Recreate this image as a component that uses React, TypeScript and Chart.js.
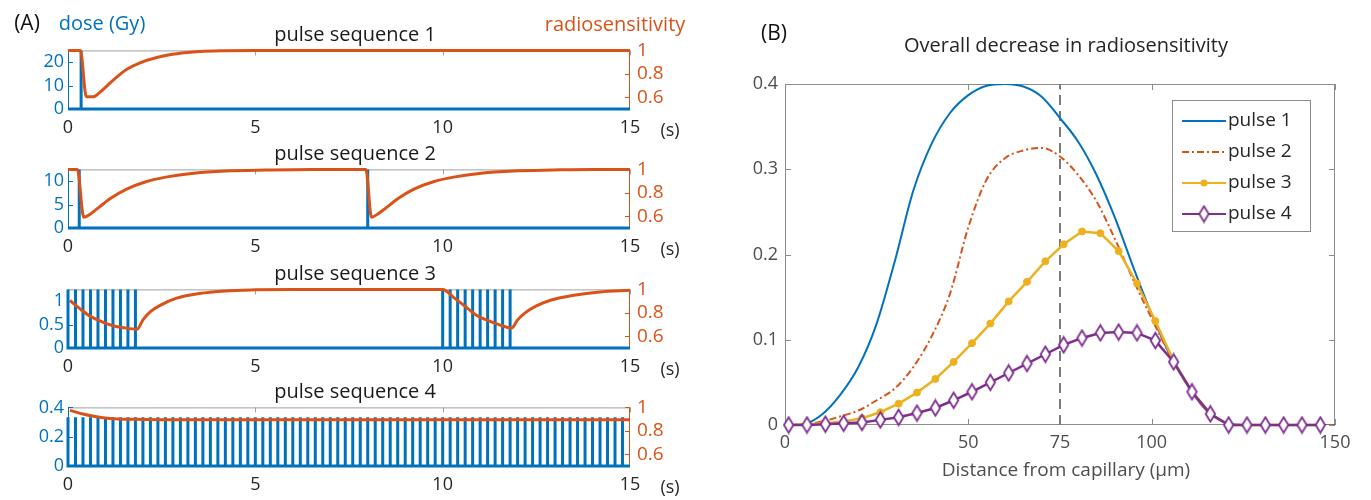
import React, { useEffect, useRef } from "react";
import { Chart, registerables } from "chart.js";

Chart.register(...registerables);
Chart.defaults.font.family = "'Open Sans', sans-serif";

// ---------------- Panel A data ----------------
const timeTicks = [0, 5, 10, 15];
const sensTicks = [0.6, 0.8, 1];
const sensRange = [0.5, 1];
const timeRange = [0, 15];

const seqTitles = ["pulse sequence 1", "pulse sequence 2", "pulse sequence 3", "pulse sequence 4"];

const seq1DoseTicks = [0, 10, 20];
const seq2DoseTicks = [0, 5, 10];
const seq3DoseTicks = [0, 0.5, 1];
const seq4DoseTicks = [0, 0.2, 0.4];

const seq1DoseMax = 25;
const seq2DoseMax = 12.5;
const seq3DoseMax = 1.25;
const seq4DoseMax = 0.4;

const seq1PulseTimes = [0.35];
const seq1PulseDose = 25;
const seq2PulseTimes = [0.3, 8];
const seq2PulseDose = 12.5;
const seq3PulseTimes = [0, 0.2, 0.4, 0.6, 0.8, 1, 1.2, 1.4, 1.6, 1.8, 10, 10.2, 10.4, 10.6, 10.8, 11, 11.2, 11.4, 11.6, 11.8];
const seq3PulseDose = 1.25;
const seq4PulseTimes = [
  0, 0.2, 0.4, 0.6, 0.8, 1, 1.2, 1.4, 1.6, 1.8, 2, 2.2, 2.4, 2.6, 2.8, 3, 3.2, 3.4, 3.6, 3.8,
  4, 4.2, 4.4, 4.6, 4.8, 5, 5.2, 5.4, 5.6, 5.8, 6, 6.2, 6.4, 6.6, 6.8, 7, 7.2, 7.4, 7.6, 7.8,
  8, 8.2, 8.4, 8.6, 8.8, 9, 9.2, 9.4, 9.6, 9.8, 10, 10.2, 10.4, 10.6, 10.8, 11, 11.2, 11.4, 11.6, 11.8,
  12, 12.2, 12.4, 12.6, 12.8, 13, 13.2, 13.4, 13.6, 13.8, 14, 14.2, 14.4, 14.6, 14.8,
];
const seq4PulseDose = 0.333;

const seq1SensTime = [0, 0.33, 0.49, 0.67, 0.85, 1.03, 1.3, 1.56, 1.92, 2.37, 2.9, 3.52, 4.15, 5, 15];
const seq1Sens = [1, 1, 0.604, 0.604, 0.642, 0.694, 0.772, 0.837, 0.894, 0.94, 0.971, 0.99, 0.997, 1, 1];

const seq2SensTime = [0, 0.25, 0.42, 0.59, 0.8, 1.12, 1.55, 2.08, 2.61, 3.36, 4.21, 5.28, 6.5, 7.95, 8.1, 8.26, 8.48, 8.8, 9.22, 9.75, 10.29, 11.03, 11.9, 12.95, 14, 15];
const seq2Sens = [1, 1, 0.592, 0.618, 0.67, 0.75, 0.83, 0.895, 0.934, 0.968, 0.987, 0.995, 1, 1, 0.592, 0.618, 0.67, 0.75, 0.83, 0.895, 0.934, 0.968, 0.987, 0.995, 1, 1];

const seq3SensTime = [0.05, 0.3, 0.6, 0.9, 1.2, 1.5, 1.84, 2.0, 2.2, 2.5, 2.9, 3.5, 4.2, 5.0, 6, 10, 10.3, 10.6, 10.9, 11.2, 11.5, 11.84, 12.0, 12.2, 12.5, 12.9, 13.5, 14.2, 15];
const seq3Sens = [0.905, 0.84, 0.77, 0.725, 0.69, 0.672, 0.66, 0.74, 0.81, 0.87, 0.925, 0.965, 0.987, 0.996, 1, 1, 0.93, 0.855, 0.78, 0.735, 0.7, 0.67, 0.74, 0.8, 0.86, 0.91, 0.95, 0.978, 0.992];

const seq4SensTime = [0.05, 0.4, 0.76, 1.12, 1.74, 2.5, 15];
const seq4Sens = [0.975, 0.944, 0.92, 0.906, 0.898, 0.895, 0.895];

// ---------------- Panel B data ----------------
const distance = [0, 5, 10, 15, 20, 25, 30, 35, 40, 45, 50, 55, 60, 65, 70, 75, 80, 85, 90, 95, 100, 105, 110, 115, 120, 125, 130, 135, 140, 145, 150];
const pulse1Decrease = [0, 0.001, 0.012, 0.035, 0.068, 0.119, 0.193, 0.275, 0.33, 0.366, 0.387, 0.398, 0.4, 0.397, 0.385, 0.36, 0.332, 0.293, 0.243, 0.185, 0.13, 0.082, 0.045, 0.017, 0.003, 0, 0, 0, 0, 0, 0];
const pulse2Decrease = [0, 0.001, 0.004, 0.01, 0.017, 0.029, 0.043, 0.068, 0.104, 0.154, 0.232, 0.288, 0.313, 0.322, 0.325, 0.315, 0.293, 0.262, 0.218, 0.17, 0.125, 0.082, 0.045, 0.017, 0.003, 0, 0, 0, 0, 0, 0];
const markerDistance = [1, 6, 11, 16, 21, 26, 31, 36, 41, 46, 51, 56, 61, 66, 71, 76, 81, 86, 91, 96, 101, 106, 111, 116, 121, 126, 131, 136, 141, 146];
const pulse3Decrease = [0, 0.001, 0.002, 0.004, 0.008, 0.015, 0.025, 0.038, 0.054, 0.074, 0.096, 0.119, 0.145, 0.168, 0.192, 0.212, 0.227, 0.225, 0.204, 0.166, 0.122, 0.075, 0.039, 0.013, 0, 0, 0, 0, 0, 0];
const pulse4Decrease = [0, 0, 0.001, 0.002, 0.003, 0.006, 0.009, 0.014, 0.02, 0.029, 0.039, 0.05, 0.061, 0.072, 0.083, 0.094, 0.102, 0.108, 0.109, 0.108, 0.099, 0.074, 0.039, 0.013, 0, 0, 0, 0, 0, 0];
const capillaryMark = 75;
const distTicks = [0, 50, 75, 100, 150];
const decTicks = [0, 0.1, 0.2, 0.3, 0.4];
const distRange = [0, 150];
const decRange = [0, 0.4];
const legendLabels = ["pulse 1", "pulse 2", "pulse 3", "pulse 4"];

// ---------------- styles ----------------
const BLUE = "#0072BD";
const ORANGE = "#D95319";
const YELLOW = "#EDB120";
const PURPLE = "#7E2F8E";
const FONT = "'Open Sans', sans-serif";

const PLOT_LEFT = 68;
const PLOT_RIGHT = 630;
const A_WIDTH = 700;
const PLOT_H = 63;
const TOP_PAD = 14;
const X_AXIS_H = 32;

function strokeLine(ctx: CanvasRenderingContext2D, x1: number, y1: number, x2: number, y2: number) {
  ctx.beginPath();
  ctx.moveTo(x1, y1);
  ctx.lineTo(x2, y2);
  ctx.stroke();
}

type PulseProps = {
  plotTop: number;
  doseTicks: number[];
  doseMax: number;
  pulseTimes: number[];
  pulseDose: number;
  sensTime: number[];
  sensValue: number[];
};

function PulsePanel(p: PulseProps) {
  const ref = useRef<HTMLCanvasElement>(null);
  useEffect(() => {
    const doseData: { x: number; y: number }[] = [{ x: timeRange[0], y: 0 }];
    p.pulseTimes.forEach((t) => {
      doseData.push({ x: t, y: 0 }, { x: t, y: p.pulseDose }, { x: t, y: 0 });
    });
    doseData.push({ x: timeRange[1], y: 0 });
    const sensData = p.sensTime.map((t, i) => ({ x: t, y: p.sensValue[i] }));

    const frame = {
      id: "frameA",
      beforeDatasetsDraw(chart: any) {
        const { ctx, chartArea, scales } = chart;
        const { left, right, top, bottom } = chartArea;
        ctx.save();
        ctx.lineWidth = 1;
        ctx.strokeStyle = "#a0a0a0";
        strokeLine(ctx, left, top + 0.5, right, top + 0.5);
        timeTicks.forEach((v) => {
          const x = Math.round(scales.x.getPixelForValue(v)) + 0.5;
          strokeLine(ctx, x, top, x, top + 5);
        });
        ctx.strokeStyle = BLUE;
        strokeLine(ctx, left + 0.5, top, left + 0.5, bottom);
        p.doseTicks.forEach((v) => {
          const y = Math.round(scales.y.getPixelForValue(v)) + 0.5;
          strokeLine(ctx, left, y, left + 5, y);
        });
        ctx.strokeStyle = ORANGE;
        strokeLine(ctx, right - 0.5, top, right - 0.5, bottom);
        sensTicks.forEach((v) => {
          const y = Math.round(scales.y2.getPixelForValue(v)) + 0.5;
          strokeLine(ctx, right - 5, y, right, y);
        });
        ctx.restore();
      },
    };

    const chart = new Chart(ref.current!, {
      type: "line",
      data: {
        datasets: [
          {
            data: sensData,
            yAxisID: "y2",
            borderColor: ORANGE,
            borderWidth: 3,
            pointRadius: 0,
            cubicInterpolationMode: "monotone",
            clip: false as any,
            order: 1,
          },
          {
            data: doseData,
            yAxisID: "y",
            borderColor: BLUE,
            borderWidth: 3,
            pointRadius: 0,
            tension: 0,
            clip: false as any,
            order: 2,
          },
        ],
      },
      options: {
        animation: false,
        responsive: false,
        devicePixelRatio: 1,
        events: [],
        layout: { padding: { top: TOP_PAD, left: 0, right: 0, bottom: 0 } },
        plugins: { legend: { display: false }, tooltip: { enabled: false } },
        scales: {
          x: {
            type: "linear",
            min: timeRange[0],
            max: timeRange[1],
            afterFit: (s: any) => { s.height = X_AXIS_H; },
            afterBuildTicks: (s: any) => { s.ticks = timeTicks.map((v) => ({ value: v })); },
            grid: { display: false, drawTicks: false },
            border: { display: false },
            ticks: { color: "#262626", font: { size: 18 }, padding: 8, autoSkip: false, maxRotation: 0, callback: (v: any) => String(v) },
          },
          y: {
            position: "left",
            min: 0,
            max: p.doseMax,
            afterFit: (s: any) => { s.width = PLOT_LEFT; },
            afterBuildTicks: (s: any) => { s.ticks = p.doseTicks.map((v) => ({ value: v })); },
            grid: { display: false, drawTicks: false },
            border: { display: false },
            ticks: { color: BLUE, font: { size: 18 }, padding: 4, autoSkip: false, callback: (v: any) => String(v) },
          },
          y2: {
            position: "right",
            min: sensRange[0],
            max: sensRange[1],
            afterFit: (s: any) => { s.width = A_WIDTH - PLOT_RIGHT; },
            afterBuildTicks: (s: any) => { s.ticks = sensTicks.map((v) => ({ value: v })); },
            grid: { display: false, drawTicks: false },
            border: { display: false },
            ticks: { color: ORANGE, font: { size: 19 }, padding: 7, autoSkip: false, callback: (v: any) => String(v) },
          },
        },
      },
      plugins: [frame],
    } as any);
    return () => chart.destroy();
  }, []);
  const h = TOP_PAD + PLOT_H + X_AXIS_H;
  return (
    <canvas
      ref={ref}
      width={A_WIDTH}
      height={h}
      style={{ position: "absolute", left: 0, top: p.plotTop - TOP_PAD, width: A_WIDTH, height: h }}
    />
  );
}

function makeDiamond(w: number, h: number, lw: number) {
  const c = document.createElement("canvas");
  c.width = w + lw * 2;
  c.height = h + lw * 2;
  const g = c.getContext("2d")!;
  g.beginPath();
  g.moveTo(c.width / 2, lw);
  g.lineTo(c.width - lw, c.height / 2);
  g.lineTo(c.width / 2, c.height - lw);
  g.lineTo(lw, c.height / 2);
  g.closePath();
  g.fillStyle = "#ffffff";
  g.fill();
  g.strokeStyle = PURPLE;
  g.lineWidth = lw;
  g.stroke();
  return c;
}

const B_LEFT = 740;
const B_W = 631;
const B_H = 500;

function PanelB() {
  const ref = useRef<HTMLCanvasElement>(null);
  useEffect(() => {
    const diamond = makeDiamond(10, 16, 1.8);
    const frame = {
      id: "frameB",
      beforeDatasetsDraw(chart: any) {
        const { ctx, chartArea, scales } = chart;
        const { left, right, top, bottom } = chartArea;
        ctx.save();
        ctx.lineWidth = 1;
        ctx.strokeStyle = "#8c8c8c";
        ctx.strokeRect(left + 0.5, top + 0.5, right - left - 1, bottom - top - 1);
        distTicks.forEach((v) => {
          const x = Math.round(scales.x.getPixelForValue(v)) + 0.5;
          strokeLine(ctx, x, bottom, x, bottom - 6);
          strokeLine(ctx, x, top, x, top + 6);
        });
        decTicks.forEach((v) => {
          const y = Math.round(scales.y.getPixelForValue(v)) + 0.5;
          strokeLine(ctx, left, y, left + 6, y);
          strokeLine(ctx, right, y, right - 6, y);
        });
        ctx.restore();
      },
    };
    const legend = {
      id: "legendB",
      afterDatasetsDraw(chart: any) {
        const { ctx, chartArea } = chart;
        const w = 139;
        const h = 132;
        const x0 = chartArea.right - 24 - w;
        const y0 = chartArea.top + 16;
        ctx.save();
        ctx.fillStyle = "#ffffff";
        ctx.fillRect(x0, y0, w, h);
        ctx.strokeStyle = "#8c8c8c";
        ctx.lineWidth = 1;
        ctx.strokeRect(x0 + 0.5, y0 + 0.5, w - 1, h - 1);
        const styles = [
          { color: BLUE, dash: [] as number[], marker: "" },
          { color: ORANGE, dash: [7, 3, 2, 3], marker: "" },
          { color: YELLOW, dash: [], marker: "dot" },
          { color: PURPLE, dash: [], marker: "diamond" },
        ];
        legendLabels.forEach((lab, i) => {
          const y = y0 + 21 + 31 * i;
          const s = styles[i];
          ctx.strokeStyle = s.color;
          ctx.lineWidth = 2;
          ctx.setLineDash(s.dash);
          strokeLine(ctx, x0 + 10, y, x0 + 54, y);
          ctx.setLineDash([]);
          if (s.marker === "dot") {
            ctx.fillStyle = YELLOW;
            ctx.beginPath();
            ctx.arc(x0 + 32, y, 3.5, 0, Math.PI * 2);
            ctx.fill();
          } else if (s.marker === "diamond") {
            ctx.drawImage(diamond, x0 + 32 - diamond.width / 2, y - diamond.height / 2);
          }
          ctx.fillStyle = "#262626";
          ctx.font = `19px ${FONT}`;
          ctx.textBaseline = "middle";
          ctx.textAlign = "left";
          ctx.fillText(lab, x0 + 56, y);
        });
        ctx.restore();
      },
    };
    const chart = new Chart(ref.current!, {
      type: "line",
      data: {
        datasets: [
          {
            label: legendLabels[0],
            data: distance.map((x, i) => ({ x, y: pulse1Decrease[i] })),
            borderColor: BLUE,
            borderWidth: 2,
            pointRadius: 0,
            cubicInterpolationMode: "monotone",
            order: 4,
          },
          {
            label: legendLabels[1],
            data: distance.map((x, i) => ({ x, y: pulse2Decrease[i] })),
            borderColor: ORANGE,
            borderWidth: 2,
            borderDash: [7, 3, 2, 3],
            pointRadius: 0,
            cubicInterpolationMode: "monotone",
            order: 3,
          },
          {
            label: legendLabels[2],
            data: markerDistance.map((x, i) => ({ x, y: pulse3Decrease[i] })),
            borderColor: YELLOW,
            backgroundColor: YELLOW,
            borderWidth: 2.5,
            pointRadius: 3.5,
            pointBorderWidth: 1,
            pointStyle: "circle",
            tension: 0,
            clip: false as any,
            order: 2,
          },
          {
            label: legendLabels[3],
            data: markerDistance.map((x, i) => ({ x, y: pulse4Decrease[i] })),
            borderColor: PURPLE,
            backgroundColor: "#ffffff",
            borderWidth: 2.5,
            pointStyle: diamond,
            pointRadius: 8,
            tension: 0,
            clip: false as any,
            order: 1,
          },
          {
            label: "capillary",
            data: [{ x: capillaryMark, y: decRange[0] }, { x: capillaryMark, y: decRange[1] }],
            borderColor: "#7a7a7a",
            borderWidth: 2,
            borderDash: [10, 6],
            pointRadius: 0,
            order: 5,
          },
        ],
      },
      options: {
        animation: false,
        responsive: false,
        devicePixelRatio: 1,
        events: [],
        layout: { padding: { top: 84, left: 0, right: 36, bottom: 0 } },
        plugins: { legend: { display: false }, tooltip: { enabled: false } },
        scales: {
          x: {
            type: "linear",
            min: distRange[0],
            max: distRange[1],
            afterFit: (s: any) => { s.height = 75; },
            afterBuildTicks: (s: any) => { s.ticks = distTicks.map((v) => ({ value: v })); },
            grid: { display: false, drawTicks: false },
            border: { display: false },
            ticks: { color: "#4d4d4d", font: { size: 18 }, padding: 7, autoSkip: false, maxRotation: 0, callback: (v: any) => String(v) },
          },
          y: {
            min: decRange[0],
            max: decRange[1],
            afterFit: (s: any) => { s.width = 45; },
            afterBuildTicks: (s: any) => { s.ticks = decTicks.map((v) => ({ value: v })); },
            grid: { display: false, drawTicks: false },
            border: { display: false },
            ticks: { color: "#4d4d4d", font: { size: 18 }, padding: 7, autoSkip: false, callback: (v: any) => String(v) },
          },
        },
      },
      plugins: [frame, legend],
    } as any);
    return () => chart.destroy();
  }, []);
  return (
    <canvas
      ref={ref}
      width={B_W}
      height={B_H}
      style={{ position: "absolute", left: B_LEFT, top: 0, width: B_W, height: B_H }}
    />
  );
}

function Label(props: { x: number; y: number; text: string; size: number; color: string }) {
  return (
    <div
      style={{
        position: "absolute",
        left: props.x,
        top: props.y,
        transform: "translate(-50%, -50%)",
        fontSize: props.size,
        color: props.color,
        fontFamily: FONT,
        whiteSpace: "nowrap",
        lineHeight: 1,
      }}
    >
      {props.text}
    </div>
  );
}

const plotTops = [46, 165, 285, 403];

export default function App() {
  const panels = [
    { doseTicks: seq1DoseTicks, doseMax: seq1DoseMax, pulseTimes: seq1PulseTimes, pulseDose: seq1PulseDose, sensTime: seq1SensTime, sensValue: seq1Sens },
    { doseTicks: seq2DoseTicks, doseMax: seq2DoseMax, pulseTimes: seq2PulseTimes, pulseDose: seq2PulseDose, sensTime: seq2SensTime, sensValue: seq2Sens },
    { doseTicks: seq3DoseTicks, doseMax: seq3DoseMax, pulseTimes: seq3PulseTimes, pulseDose: seq3PulseDose, sensTime: seq3SensTime, sensValue: seq3Sens },
    { doseTicks: seq4DoseTicks, doseMax: seq4DoseMax, pulseTimes: seq4PulseTimes, pulseDose: seq4PulseDose, sensTime: seq4SensTime, sensValue: seq4Sens },
  ];
  return (
    <div style={{ position: "absolute", left: 0, top: 0, width: 1371, height: 500, background: "#ffffff", overflow: "hidden" }}>
      {panels.map((pp, i) => (
        <PulsePanel key={i} plotTop={plotTops[i]} {...pp} />
      ))}
      <PanelB />
      <Label x={27} y={22} text="(A)" size={21} color="#111111" />
      <Label x={102} y={23} text="dose (Gy)" size={20} color={BLUE} />
      <Label x={615} y={24} text="radiosensitivity" size={20} color={ORANGE} />
      {plotTops.map((t, i) => (
        <Label key={"t" + i} x={355} y={t - 12} text={seqTitles[i]} size={20} color="#1a1a1a" />
      ))}
      {plotTops.map((t, i) => (
        <Label key={"s" + i} x={670} y={t + PLOT_H + 20} text="(s)" size={18} color="#262626" />
      ))}
      <Label x={774} y={32} text="(B)" size={21} color="#111111" />
      <Label x={1066} y={45} text="Overall decrease in radiosensitivity" size={20} color="#262626" />
      <Label x={1066} y={469} text="Distance from capillary (μm)" size={19} color="#4d4d4d" />
    </div>
  );
}
